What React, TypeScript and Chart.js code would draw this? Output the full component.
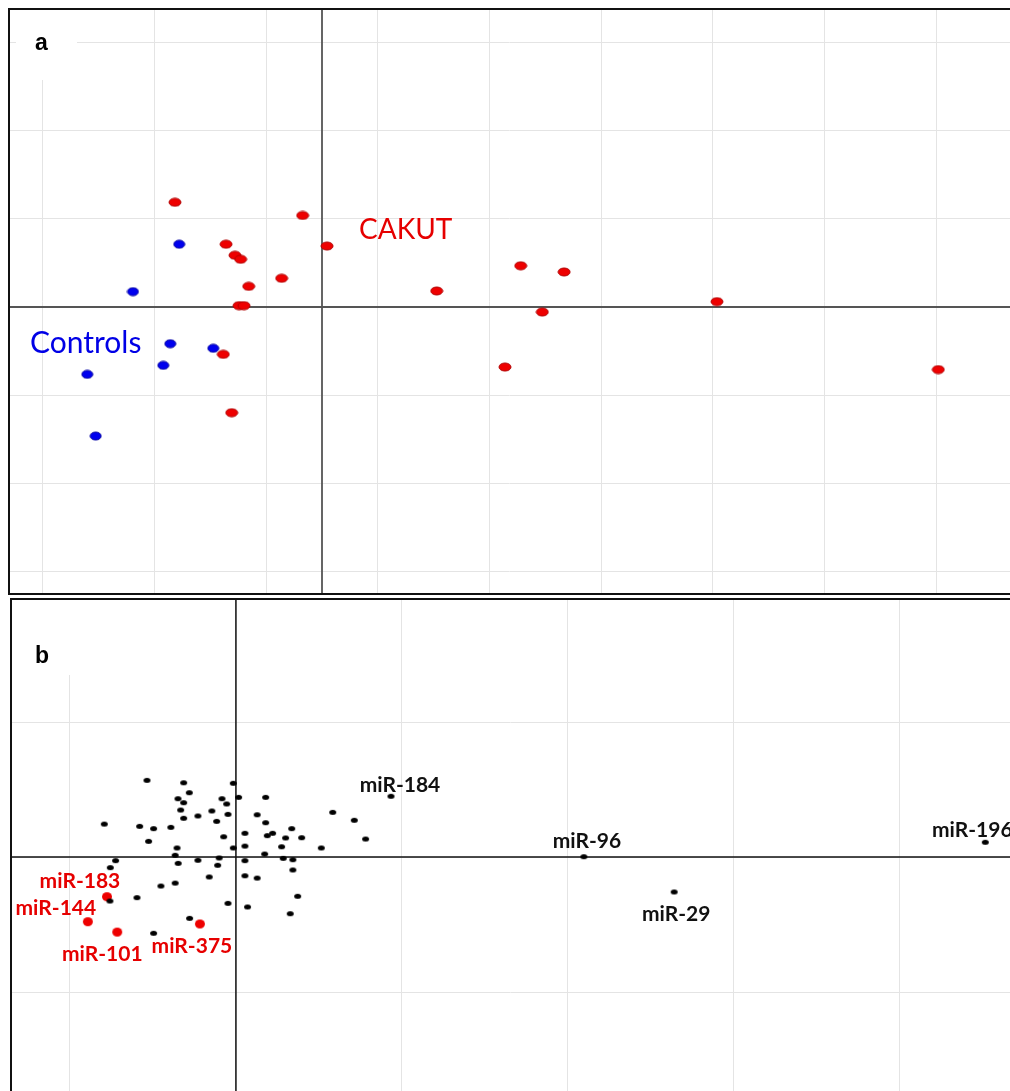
import React, { useEffect, useRef } from "react";
import { Chart, registerables } from "chart.js";

Chart.register(...registerables);

// ---------- Panel a data (PCA of samples) ----------
const cakutX = [-1.316, -0.173, 0.045, -0.859, -0.779, -0.728, -0.361, -0.656, 1.027, -0.743, -0.698, -0.884, -0.808, 1.779, 2.167, 1.972, 3.536, 1.638, 5.517];
const cakutY = [1.19, 1.04, 0.693, 0.713, 0.588, 0.542, 0.326, 0.235, 0.182, 0.015, 0.015, -0.538, -1.201, 0.468, 0.398, -0.057, 0.061, -0.682, -0.711];
const controlX = [-1.278, -1.692, -1.358, -0.973, -1.421, -2.101, -2.026];
const controlY = [0.713, 0.174, -0.417, -0.469, -0.663, -0.765, -1.466];
const aGridX = [-2.5, -1.5, -0.5, 0.5, 1.5, 2.5, 3.5, 4.5, 5.5];
const aGridY = [-3, -2, -1, 0, 1, 2, 3];

// ---------- Panel b data (miRNA loadings) ----------
const mirX = [-0.536, -0.315, -0.016, -0.281, -0.349, -0.315, -0.084, -0.056, 0.016, 0.179, -0.333, -0.145, -0.048, -0.229, -0.315, -0.116, 0.128, 0.179, -0.793, -0.58, -0.496, -0.392, -0.526, -0.074, 0.054, 0.189, 0.221, 0.336, 0.299, 0.396, 0.583, 0.713, 0.781, 0.514, -0.355, -0.016, 0.054, 0.275, 0.173, -0.366, -0.101, -0.229, 0.054, 0.285, 0.343, -0.725, -0.757, -0.348, -0.11, 0.343, -0.161, 0.054, 0.128, -0.366, -0.452, -0.596, -0.759, 0.372, -0.048, 0.07, 0.327, -0.279, -0.496];
const mirY = [0.568, 0.55, 0.546, 0.476, 0.432, 0.402, 0.432, 0.393, 0.442, 0.442, 0.348, 0.341, 0.316, 0.304, 0.287, 0.264, 0.313, 0.254, 0.244, 0.227, 0.21, 0.22, 0.116, 0.15, 0.176, 0.158, 0.176, 0.21, 0.141, 0.143, 0.331, 0.272, 0.133, 0.067, 0.067, 0.067, 0.081, 0.076, 0.022, 0.013, -0.007, -0.024, -0.027, -0.01, -0.02, -0.027, -0.079, -0.047, -0.061, -0.096, -0.148, -0.139, -0.156, -0.193, -0.215, -0.301, -0.326, -0.291, -0.343, -0.37, -0.42, -0.454, -0.565];
const namedMirLabels = ["miR-184", "miR-96", "miR-29", "miR-196"];
const namedMirX = [0.934, 2.096, 2.64, 4.514];
const namedMirY = [0.45, 0.002, -0.259, 0.109];
const keyMirLabels = ["miR-183", "miR-144", "miR-101", "miR-375"];
const keyMirX = [-0.777, -0.892, -0.715, -0.217];
const keyMirY = [-0.294, -0.479, -0.556, -0.496];
const bGridX = [-1, 0, 1, 2, 3, 4];
const bGridY = [-1, 0, 1];

// label offsets (px) from each point: [dx, dy to baseline]
const namedMirOffsets = [[9, -4], [3, -9], [2, 29], [-13, -5]];
const keyMirOffsets = [[-27, -9], [-32, -7], [-15, 29], [-8, 29]];

const RED = "#e60000";
const BLUE = "#0000e6";
const GRID = "#e4e4e4";

function ellipse(w: number, h: number, fill: string, stroke: string | null) {
  const c = document.createElement("canvas");
  c.width = w + 2;
  c.height = h + 2;
  const ctx = c.getContext("2d")!;
  ctx.beginPath();
  ctx.ellipse((w + 2) / 2, (h + 2) / 2, w / 2, h / 2, 0, 0, Math.PI * 2);
  ctx.fillStyle = fill;
  ctx.fill();
  if (stroke) {
    ctx.lineWidth = 1;
    ctx.strokeStyle = stroke;
    ctx.stroke();
  }
  return c;
}

function pts(xs: number[], ys: number[]) {
  return xs.map((x, i) => ({ x, y: ys[i] }));
}

function scaleOpts(min: number, max: number, ticks: number[]) {
  return {
    type: "linear" as const,
    min,
    max,
    afterBuildTicks: (axis: any) => {
      axis.ticks = ticks.map((v) => ({ value: v }));
    },
    ticks: { display: false },
    grid: { color: GRID, lineWidth: 1, drawTicks: false },
    border: { display: false },
  };
}

type Opt = {
  axisColor: string;
  axisWidth: number;
  box: [number, number, number, number];
  drawBottom: boolean;
  texts: (chart: any, ctx: CanvasRenderingContext2D) => void;
};

function makePlugin(o: Opt) {
  return {
    id: "decor",
    beforeDatasetsDraw(chart: any) {
      const ctx = chart.ctx as CanvasRenderingContext2D;
      const { left, right, top, bottom } = chart.chartArea;
      const x0 = chart.scales.x.getPixelForValue(0);
      const y0 = chart.scales.y.getPixelForValue(0);
      ctx.save();
      ctx.fillStyle = "#ffffff";
      ctx.fillRect(left + o.box[0], top + o.box[1], o.box[2], o.box[3]);
      ctx.strokeStyle = o.axisColor;
      ctx.lineWidth = o.axisWidth;
      ctx.beginPath();
      ctx.moveTo(x0, top);
      ctx.lineTo(x0, bottom);
      ctx.moveTo(left, y0);
      ctx.lineTo(right, y0);
      ctx.stroke();
      ctx.restore();
    },
    afterDatasetsDraw(chart: any) {
      const ctx = chart.ctx as CanvasRenderingContext2D;
      const { left, right, top, bottom } = chart.chartArea;
      ctx.save();
      o.texts(chart, ctx);
      ctx.strokeStyle = "#111111";
      ctx.lineWidth = 2;
      ctx.beginPath();
      ctx.moveTo(right + 2, top);
      ctx.lineTo(left, top);
      ctx.lineTo(left, bottom);
      if (o.drawBottom) ctx.lineTo(right + 2, bottom);
      ctx.stroke();
      ctx.restore();
    },
  };
}

function PanelA() {
  const ref = useRef<HTMLCanvasElement>(null);
  useEffect(() => {
    const chart = new Chart(ref.current!, {
      type: "scatter",
      data: {
        datasets: [
          {
            label: "CAKUT",
            data: pts(cakutX, cakutY),
            pointStyle: ellipse(12, 8, "#ee0000", "#b00000") as any,
          },
          {
            label: "Controls",
            data: pts(controlX, controlY),
            pointStyle: ellipse(11, 8, "#0000ee", "#0000a0") as any,
          },
        ],
      },
      options: {
        animation: false,
        responsive: true,
        maintainAspectRatio: false,
        layout: { autoPadding: false, padding: { left: 9, top: 9, right: 0, bottom: 2 } },
        plugins: { legend: { display: false }, tooltip: { enabled: false } },
        scales: {
          x: scaleOpts(-2.802, 6.159, aGridX),
          y: scaleOpts(-3.261, 3.386, aGridY),
        },
      },
      plugins: [
        makePlugin({
          axisColor: "#555555",
          axisWidth: 1.8,
          box: [7, 0, 61, 71],
          drawBottom: true,
          texts: (chart, ctx) => {
            const { left, top } = chart.chartArea;
            ctx.textAlign = "left";
            ctx.textBaseline = "alphabetic";
            ctx.fillStyle = "#000000";
            ctx.font = "bold 23px 'Liberation Sans', Arial, sans-serif";
            ctx.fillText("a", left + 26, top + 41);
            ctx.font = "28px Lato, sans-serif";
            ctx.fillStyle = RED;
            ctx.fillText("CAKUT", left + 350, top + 230);
            ctx.font = "30px Lato, sans-serif";
            ctx.fillStyle = BLUE;
            ctx.fillText("Controls", left + 21, top + 344);
          },
        }) as any,
      ],
    });
    return () => chart.destroy();
  }, []);
  return (
    <div style={{ position: "absolute", left: 0, top: 0, width: 1010, height: 596 }}>
      <canvas ref={ref} />
    </div>
  );
}

function PanelB() {
  const ref = useRef<HTMLCanvasElement>(null);
  useEffect(() => {
    const chart = new Chart(ref.current!, {
      type: "scatter",
      data: {
        datasets: [
          {
            label: "miRNA",
            data: pts(mirX, mirY),
            pointStyle: ellipse(7, 5, "#000000", null) as any,
          },
          {
            label: "labelled",
            data: pts(namedMirX, namedMirY),
            pointStyle: ellipse(7, 5, "#000000", null) as any,
          },
          {
            label: "key",
            data: pts(keyMirX, keyMirY),
            pointStyle: ellipse(10, 9, "#ee0000", null) as any,
          },
        ],
      },
      options: {
        animation: false,
        responsive: true,
        maintainAspectRatio: false,
        layout: { autoPadding: false, padding: { left: 11, top: 3, right: 0, bottom: 0 } },
        plugins: { legend: { display: false }, tooltip: { enabled: false } },
        scales: {
          x: scaleOpts(-1.355, 4.663, bGridX),
          y: scaleOpts(-1.733, 1.911, bGridY),
        },
      },
      plugins: [
        makePlugin({
          axisColor: "#111111",
          axisWidth: 1.5,
          box: [2, 0, 90, 76],
          drawBottom: false,
          texts: (chart, ctx) => {
            const { left, top } = chart.chartArea;
            const sx = chart.scales.x;
            const sy = chart.scales.y;
            ctx.textBaseline = "alphabetic";
            ctx.textAlign = "left";
            ctx.fillStyle = "#000000";
            ctx.font = "bold 23px 'Liberation Sans', Arial, sans-serif";
            ctx.fillText("b", left + 24, top + 64);
            ctx.textAlign = "center";
            ctx.font = "bold 21px Lato, sans-serif";
            ctx.fillStyle = "#111111";
            namedMirLabels.forEach((t, i) => {
              const px = sx.getPixelForValue(namedMirX[i]);
              const py = sy.getPixelForValue(namedMirY[i]);
              ctx.fillText(t, px + namedMirOffsets[i][0], py + namedMirOffsets[i][1]);
            });
            ctx.fillStyle = RED;
            keyMirLabels.forEach((t, i) => {
              const px = sx.getPixelForValue(keyMirX[i]);
              const py = sy.getPixelForValue(keyMirY[i]);
              ctx.fillText(t, px + keyMirOffsets[i][0], py + keyMirOffsets[i][1]);
            });
          },
        }) as any,
      ],
    });
    return () => chart.destroy();
  }, []);
  return (
    <div style={{ position: "absolute", left: 0, top: 596, width: 1010, height: 495 }}>
      <canvas ref={ref} />
    </div>
  );
}

export default function App() {
  return (
    <div
      style={{
        position: "fixed",
        left: 0,
        top: 0,
        width: 1010,
        height: 1091,
        overflow: "hidden",
        background: "#ffffff",
      }}
    >
      <PanelA />
      <PanelB />
    </div>
  );
}
